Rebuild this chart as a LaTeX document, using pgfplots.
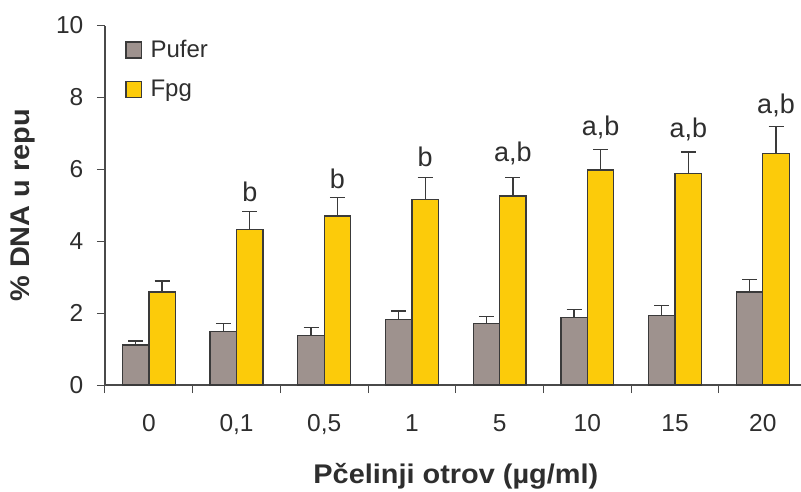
\documentclass[border=0pt]{standalone}
\usepackage{pgfplots}
\pgfplotsset{compat=1.18}
\usepackage{fontspec}
\setmainfont{Liberation Sans}
\newfontfamily\labfont[FakeStretch=1.07]{Liberation Sans}
\definecolor{pufer}{HTML}{9E928E}
\definecolor{fpg}{HTML}{FCCB0A}
\definecolor{edge}{HTML}{3A3A3A}
\definecolor{txt}{HTML}{2E2E2E}
\definecolor{axc}{HTML}{4A4A4A}
\begin{document}
\begin{tikzpicture}
\useasboundingbox (0,0) rectangle (801pt,491pt);
\begin{axis}[
  at={(105pt,106pt)}, anchor=south west,
  scale only axis, width=696pt, height=359.5pt,
  xmin=0, xmax=7.936, ymin=0, ymax=10,
  axis x line*=bottom, axis y line*=left,
  axis line style={axc, line width=1.2pt},
  every tick/.style={axc, line width=1pt},
  tick align=outside, major tick length=8pt,
  ytick={0,2,...,10},
  xtick={0,...,7}, xticklabels={{},{},{},{},{},{},{},{}},
  extra x ticks={0.5,1.5,...,7.5},
  extra x tick labels={0,{0,1},{0,5},1,5,10,15,20},
  extra x tick style={major tick length=0pt},
  /pgf/number format/assume math mode=true,
  tick label style={font=\fontsize{24.5}{28}\selectfont, text=txt},
  xticklabel style={anchor=base, yshift=-46pt, inner sep=0pt},
  yticklabel style={anchor=east, inner sep=0pt, xshift=-13.5pt},
  xlabel={Pčelinji otrov (µg/ml)},
  ylabel={\% DNA u repu},
  every axis x label/.style={at={(axis cs:4,0)}, anchor=base, yshift=-98pt, font=\labfont\fontsize{27}{30}\selectfont\bfseries, text=txt, inner sep=0pt},
  every axis y label/.style={at={(axis cs:0,5)}, xshift=-75pt, rotate=90, anchor=base, font=\labfont\fontsize{27}{30}\selectfont\bfseries, text=txt, inner sep=0pt},
  legend style={at={(axis description cs:0,1)}, anchor=north west, xshift=20pt, yshift=-12pt, draw=none, fill=none, font=\fontsize{24}{28}\selectfont, text=txt, row sep=17pt, inner sep=0pt},
  legend cell align=left,
  error bars/y dir=plus, error bars/y explicit,
  error bars/error bar style={edge, line width=1.3pt},
  error bars/error mark options={edge, line width=1.3pt, mark size=7.5pt, rotate=90},
]
\addplot[ybar, bar width=0.302, bar shift=0pt, fill=pufer, draw=edge, line width=1.3pt,
  legend image code/.code={\draw[fill=pufer, draw=edge, line width=1.3pt] (0pt,-8.8pt) rectangle (15.5pt,7.2pt); \path (22pt,0pt);}]
  coordinates {
  (0.349,1.11) +- (0,0.11)
  (1.349,1.48) +- (0,0.23)
  (2.349,1.37) +- (0,0.23)
  (3.349,1.82) +- (0,0.24)
  (4.349,1.71) +- (0,0.19)
  (5.349,1.88) +- (0,0.22)
  (6.349,1.94) +- (0,0.28)
  (7.349,2.59) +- (0,0.35)
  };
\addlegendentry{Pufer}
\addplot[ybar, bar width=0.302, bar shift=0pt, fill=fpg, draw=edge, line width=1.3pt,
  legend image code/.code={\draw[fill=fpg, draw=edge, line width=1.3pt] (0pt,-8.8pt) rectangle (15.5pt,7.2pt); \path (22pt,0pt);}]
  coordinates {
  (0.651,2.59) +- (0,0.30)
  (1.651,4.32) +- (0,0.51)
  (2.651,4.70) +- (0,0.51)
  (3.651,5.16) +- (0,0.61)
  (4.651,5.26) +- (0,0.51)
  (5.651,5.98) +- (0,0.57)
  (6.651,5.88) +- (0,0.60)
  (7.651,6.43) +- (0,0.77)
  };
\addlegendentry{Fpg}
\addplot[draw=none, mark=none, forget plot, nodes near coords, point meta=explicit symbolic,
  nodes near coords style={anchor=base, inner sep=0pt, font=\fontsize{27}{32}\selectfont, text=txt}]
  table[meta=lab] {
  x y lab
  1.651 5.10 b
  2.651 5.47 b
  3.651 6.07 b
  4.651 6.21 {a,b}
  5.651 6.93 {a,b}
  6.651 6.89 {a,b}
  7.651 7.56 {a,b}
  };
\end{axis}
\end{tikzpicture}
\end{document}
